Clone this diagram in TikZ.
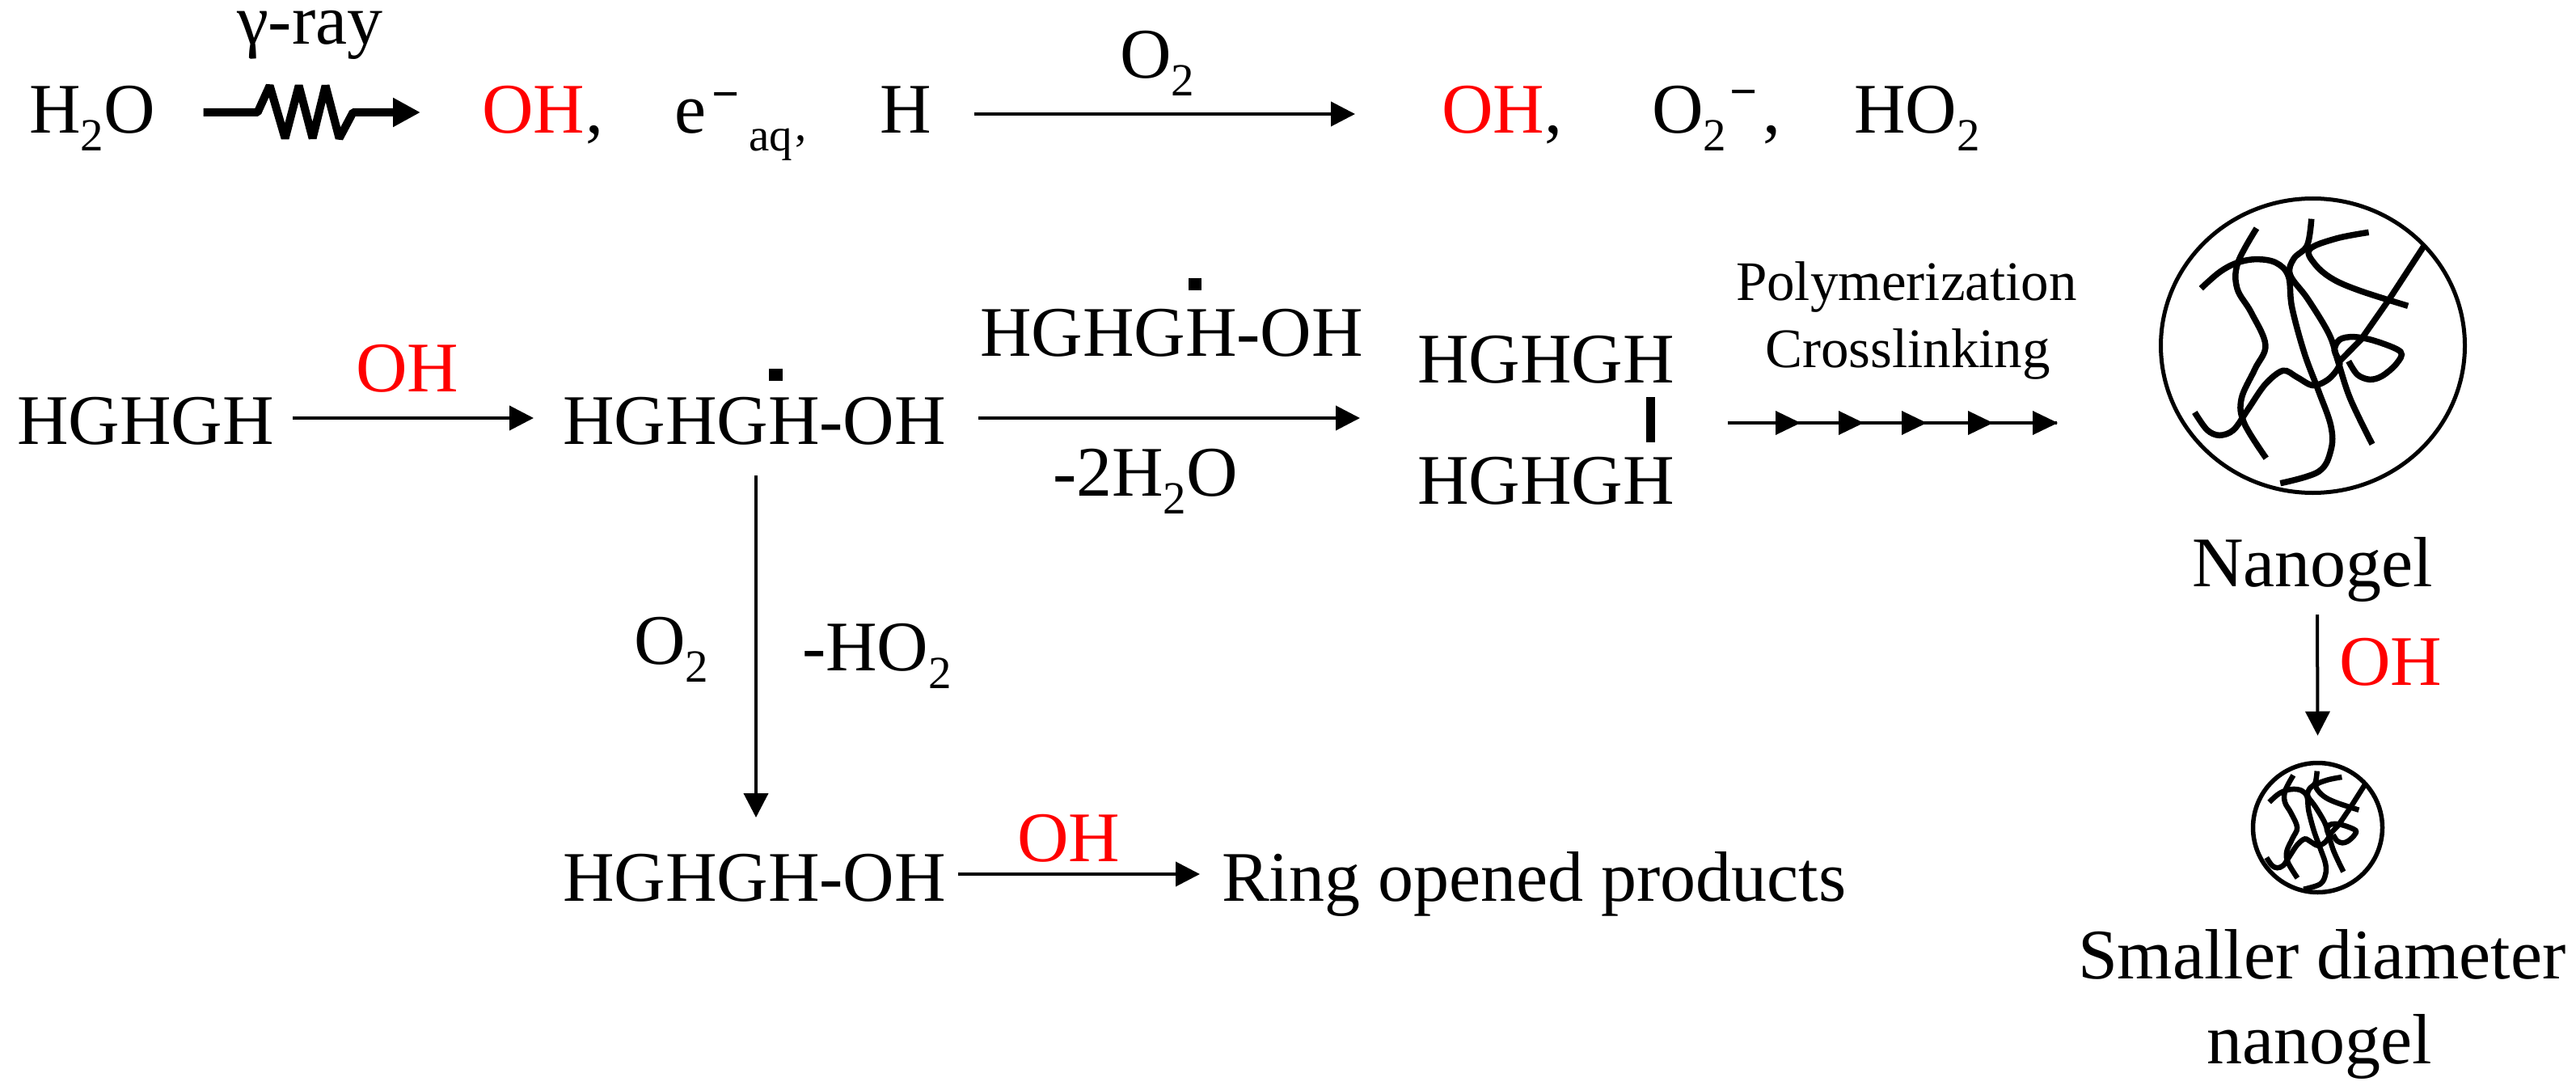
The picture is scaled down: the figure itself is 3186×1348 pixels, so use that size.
\documentclass[tikz,border=0pt]{standalone}
\usepackage{fontspec}
\setmainfont{Liberation Serif}
\usetikzlibrary{arrows.meta,calc,shapes.geometric}
\newcommand\subtwo{\raisebox{-22pt}{\fontsize{57pt}{57pt}\selectfont 2}}
\newcommand\gelchains{%
  \draw[chain] plot[smooth,tension=.6] coordinates {(665,157) (612,285) (610,380) (650,470) (690,590) (660,680) (622,790) (630,880) (692,1010)};
  \draw[chain] plot[smooth,tension=.6] coordinates {(508,380) (560,320) (610,285) (665,272) (720,285) (755,335) (765,450) (800,620) (840,760) (875,890) (875,980) (840,1060) (732,1103)};
  \draw[chain] plot[smooth,tension=.6] coordinates {(820,122) (808,220) (770,270) (760,330) (810,420) (870,550) (895,650) (930,790) (992,958)};
  \draw[chain] plot[smooth,tension=.6] coordinates {(982,172) (890,195) (815,235) (830,290) (880,345) (960,390) (1093,445)};
  \draw[chain] (1137,225) -- (1040,420) -- (960,570) -- (900,650);
  \draw[chain] plot[smooth,tension=.55] coordinates {(490,840) (525,905) (560,925) (600,905) (640,830) (690,735) (740,685) (780,710) (825,740) (870,715) (900,660) (885,610) (900,570) (940,560) (1000,575) (1072,615) (1060,660) (1020,705) (985,718) (950,700) (925,650)};
}
\tikzset{
  x=1pt,y=-1pt,
  txt/.style={anchor=base west,inner sep=0pt,outer sep=0pt,font=\fontsize{88pt}{88pt}\selectfont},
  red txt/.style={txt,text=red},
  small txt/.style={txt,font=\fontsize{69pt}{69pt}\selectfont},
  sup txt/.style={txt,font=\fontsize{57pt}{57pt}\selectfont},
  minus txt/.style={txt,font=\fontsize{60pt}{60pt}\selectfont\bfseries},
  rxn/.style={line width=4pt,-{Triangle[length=30pt,width=30pt]}},
  bond/.style={line width=11pt},
  radical/.style={fill=black},
  chain/.style={line width=7.5pt},
  gel/.style={draw,ellipse,inner sep=0pt,line width=5pt},
}
\begin{document}
\begin{tikzpicture}
\useasboundingbox (0,0) rectangle (3186,1348);
% row 1
\node[txt] (h2o) at (36,165) {H\subtwo O};
\node[txt] (gamma) at (293,55) {γ-ray};
\node[red txt] (oh1) at (596,165) {OH};
\node[txt] (c1) at (724,165) {,};
\node[txt] (e) at (834,165) {e};
\node[minus txt] (em) at (880,137) {−};
\node[sup txt] (aq) at (926,187) {aq};
\node[sup txt] (c2) at (983,174) {,};
\node[txt] (h) at (1088,165) {H};
\node[txt] (o2a) at (1385,97) {O\subtwo};
\node[red txt] (oh2) at (1783,165) {OH};
\node[txt] (c3) at (1910,165) {,};
\node[txt] (o2m) at (2043,165) {O\subtwo};
\node[minus txt] (o2ms) at (2139,134) {−};
\node[txt] (c4) at (2180,165) {,};
\node[txt] (ho2) at (2293,165) {HO\subtwo};
% zigzag arrow
\draw[line width=10pt,line join=bevel,-{Triangle[length=34pt,width=34pt]}]
  ($(h2o.base east)+(60,-26)$) -- ++(67,0) -- ++(15,-33) -- ++(19,65) -- ++(17,-65) -- ++(17,65) -- ++(16,-65) -- ++(17,65) -- ++(17,-32)
  -- ($(oh1.base west)+(-76,-26)$);
\draw[rxn] ($(h.base east)+(53,-24)$) -- ($(oh2.base west)+(-107,-24)$);
% row 2
\node[txt] (hg1) at (21,549) {HGHGH};
\node[red txt] (ohb) at (440,484) {OH};
\node[txt] (hgoh) at (696,549) {HGHGH-OH};
\fill[radical] (951,456) rectangle (968,471);
\node[txt] (hgoh2) at (1212,440) {HGHGH-OH};
\fill[radical] (1470,344) rectangle (1486,359);
\node[txt] (m2w) at (1302,613) {-2H\subtwo O};
\node[txt] (hgt) at (1753,473) {HGHGH};
\node[txt] (hgb) at (1753,623) {HGHGH};
\node[small txt] (poly) at (2147,371) {Polymerization};
\node[small txt] (cross) at (2183,454) {Crosslinking};
\draw[rxn] ($(hg1.base east)+(23,-32)$) -- ($(hgoh.base west)+(-36,-32)$);
\draw[rxn] ($(hgoh.base east)+(40,-32)$) -- ($(hgt.base west)+(-71,44)$);
\draw[bond] ($(hgt.base east)+(-29,18)$) -- ($(hgb.base east)+(-29,-76)$);
% gels
\node[gel,minimum width=376pt,minimum height=364pt] (biggel) at (2860.5,427.5) {};
\begin{scope}[shift={(2500,230)},x=0.4375pt,y=-0.33333pt]
  \gelchains
\end{scope}
\node[txt] (ng) at (2711,725) {Nanogel};
\node[red txt] (ohc) at (2893,847) {OH};
\node[gel,minimum width=160pt,minimum height=160pt,line width=5.5pt] (smallgel) at (2866.5,1023.5) {};
\begin{scope}[shift={(2710.4,935.4)},x=0.1894pt,y=-0.149pt,chain/.append style={line width=6.5pt}]
  \gelchains
\end{scope}
\node[txt] (sd) at (2570,1210) {Smaller diameter};
\node[txt] (ng2) at (2729,1315) {nanogel};
% poly arrow
\draw[line width=4pt] ($(hgt.base east)+(66,50)$) -- ($(biggel.west)+(-126,95.5)$);
\foreach \b in {2196,2274,2352,2434,2514}
  \fill (\b,508) -- (\b+31,523) -- (\b,538) -- cycle;
% lower
\node[txt] (o2b) at (784,821) {O\subtwo};
\node[txt] (mho) at (992,829) {-HO\subtwo};
\node[txt] (hgoh3) at (696,1114) {HGHGH-OH};
\node[red txt] (ohd) at (1258,1065) {OH};
\node[txt] (ring) at (1511,1114) {Ring opened products};
\draw[rxn] ($(hgoh.base west)+(239,39)$) -- ($(hgoh3.base west)+(239,-103)$);
\draw[rxn] ($(hgoh3.base east)+(15,-33)$) -- ($(ring.base west)+(-27,-33)$);
\draw[rxn] ($(ng.base west)+(155,35)$) -- ($(smallgel.north)+(0,-31)$);
\end{tikzpicture}
\end{document}
